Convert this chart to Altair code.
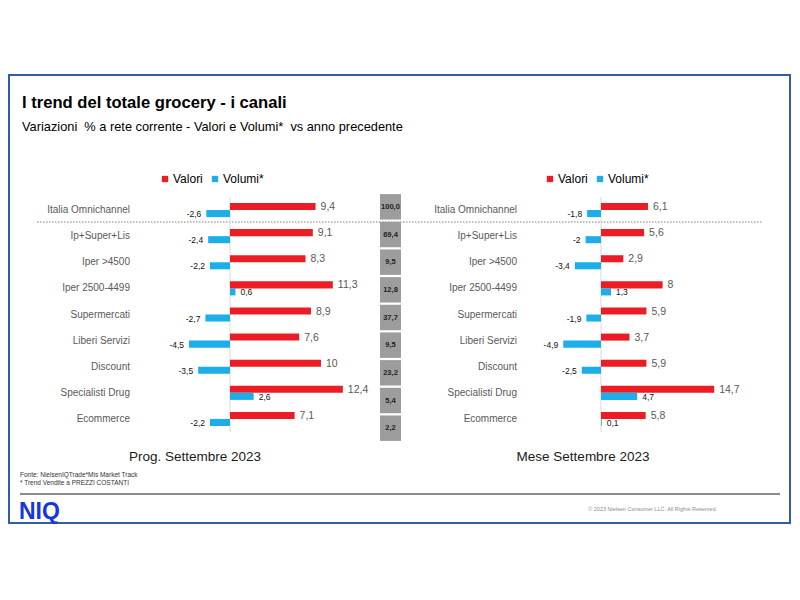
import altair as alt
import pandas as pd

# ---------------- data ----------------
categories = ["Italia Omnichannel", "Ip+Super+Lis", "Iper >4500", "Iper 2500-4499",
              "Supermercati", "Liberi Servizi", "Discount", "Specialisti Drug", "Ecommerce"]
series = ["Valori", "Volumi*"]
prog_valori = [9.4, 9.1, 8.3, 11.3, 8.9, 7.6, 10, 12.4, 7.1]
prog_volumi = [-2.6, -2.4, -2.2, 0.6, -2.7, -4.5, -3.5, 2.6, -2.2]
mese_valori = [6.1, 5.6, 2.9, 8, 5.9, 3.7, 5.9, 14.7, 5.8]
mese_volumi = [-1.8, -2, -3.4, 1.3, -1.9, -4.9, -2.5, 4.7, 0.1]
peso = ["100,0", "69,4", "9,5", "12,8", "37,7", "9,5", "23,2", "5,4", "2,2"]

title_text = "I trend del totale grocery - i canali"
subtitle_text = "Variazioni \u00a0% a rete corrente - Valori e Volumi* \u00a0vs anno precedente"
panel_titles = ["Prog. Settembre 2023", "Mese Settembre 2023"]
fonte_lines = ["Fonte: NielsenIQTrade*Mis Market Track", "* Trend Vendite a PREZZI COSTANTI"]
copyright_text = "© 2023 Nielsen Consumer LLC. All Rights Reserved."
logo_text = "NIQ"

RED = "#ec1c24"
BLUE = "#1caee8"
FONT = "Liberation Sans"
OFF = 8


def P(v):
    return v - OFF


def fmt(v):
    return f"{v:g}".replace(".", ",")


rows = []
for panel, vals, vols in [("prog", prog_valori, prog_volumi), ("mese", mese_valori, mese_volumi)]:
    for c, a, b in zip(categories, vals, vols):
        rows.append(dict(panel=panel, cat=c, series="Valori", value=a, label=fmt(a)))
        rows.append(dict(panel=panel, cat=c, series="Volumi*", value=b, label=fmt(b)))
df = pd.DataFrame(rows)
cat_df = pd.DataFrame({"cat": categories})
peso_df = pd.DataFrame({"cat": categories, "peso": peso})


def panel(name, zero_x, px_per_unit, label_right, legend_x):
    d = df[df.panel == name]
    xs = alt.Scale(domain=[-10, 15], range=[P(zero_x - 10 * px_per_unit), P(zero_x + 15 * px_per_unit)])
    ys = alt.Scale(domain=categories, range=[P(197), P(432)], paddingInner=0.46, paddingOuter=0.23)
    base = alt.Chart(d)
    zero = alt.Chart(pd.DataFrame({"z": [0]})).mark_rule(color="#d9d9d9", strokeWidth=1).encode(
        x=alt.X("z:Q", scale=xs, axis=None), y=alt.value(P(197)), y2=alt.value(P(432)))
    bars = base.mark_bar().encode(
        x=alt.X("value:Q", scale=xs, axis=None),
        x2=alt.X2(datum=0),
        y=alt.Y("cat:N", scale=ys, axis=None, sort=categories),
        yOffset=alt.YOffset("series:N", scale=alt.Scale(domain=series, paddingInner=0, paddingOuter=0)),
        color=alt.Color("series:N", scale=alt.Scale(domain=series, range=[RED, BLUE]),
                        legend=alt.Legend(orient="none", legendX=P(legend_x), legendY=P(173),
                                          direction="horizontal", title=None, symbolType="square",
                                          symbolSize=40, symbolStrokeWidth=0, labelFontSize=12,
                                          labelColor="#000000", labelFont=FONT, columnPadding=6,
                                          labelOffset=2, padding=0)),
    )
    enc = dict(x=alt.X("value:Q", scale=xs, axis=None),
               y=alt.Y("cat:N", scale=ys, axis=None, sort=categories),
               text="label:N")
    vlab = base.transform_filter("datum.series == 'Valori'").mark_text(
        align="left", baseline="middle", dx=5, dy=-3, fontSize=10.5, color="#595959", font=FONT).encode(**enc)
    neg = base.transform_filter("datum.series == 'Volumi*' && datum.value < 0").mark_text(
        align="right", baseline="middle", dx=-5, dy=4, fontSize=8.5, color="#111111", font=FONT).encode(**enc)
    pos = base.transform_filter("datum.series == 'Volumi*' && datum.value >= 0").mark_text(
        align="left", baseline="middle", dx=5, dy=4, fontSize=8.5, color="#111111", font=FONT).encode(**enc)
    labels = alt.Chart(cat_df).mark_text(align="right", baseline="middle", fontSize=10,
                                         color="#595959", font=FONT).encode(
        x=alt.value(P(label_right)), y=alt.Y("cat:N", scale=ys, axis=None, sort=categories), text="cat:N")
    return [zero, bars, vlab, neg, pos, labels]


def txt(s, x, y, size, color="#000000", bold=False, align="left", baseline="alphabetic"):
    return alt.Chart(pd.DataFrame({"t": [s]})).mark_text(
        align=align, baseline=baseline, fontSize=size, color=color, font=FONT,
        fontWeight="bold" if bold else "normal").encode(x=alt.value(x), y=alt.value(y), text="t:N")


one = pd.DataFrame({"k": [0]})
frame = alt.Chart(one).mark_rect(filled=False, stroke="#2f5da6", strokeWidth=2).encode(
    x=alt.value(1), x2=alt.value(782), y=alt.value(P(75)), y2=alt.value(P(523)))
dotted = alt.Chart(one).mark_rule(color="#7f7f7f", strokeWidth=1.2, strokeDash=[1.5, 1.5]).encode(
    x=alt.value(P(37)), x2=alt.value(P(762)), y=alt.value(P(222)))
footer_line = alt.Chart(one).mark_rule(color="#8c8c8c", strokeWidth=2).encode(
    x=alt.value(P(20)), x2=alt.value(P(780)), y=alt.value(P(494)))

ys_peso = alt.Scale(domain=categories, range=[P(193), P(442)], paddingInner=0.08, paddingOuter=0.04)
peso_rect = alt.Chart(peso_df).mark_rect(color="#9d9d9d").encode(
    x=alt.value(P(380)), x2=alt.value(P(401)), y=alt.Y("cat:N", scale=ys_peso, axis=None, sort=categories))
peso_txt = alt.Chart(peso_df).mark_text(fontSize=7.5, fontWeight="bold", color="#222222", font=FONT,
                                        baseline="middle").encode(
    x=alt.value(P(390.5)), y=alt.Y("cat:N", scale=ys_peso, axis=None, sort=categories), text="peso:N")

layers = [frame, dotted, footer_line, peso_rect, peso_txt]
layers += panel("prog", 230, 9.1, 130, 159)
layers += panel("mese", 601, 7.7, 517, 544)
layers += [
    txt(title_text, P(22), P(108), 16.6, bold=True),
    txt(subtitle_text, P(22), P(131), 12.8),
    txt(panel_titles[0], P(195), P(461), 13.5, color="#1a1a1a", align="center"),
    txt(panel_titles[1], P(583), P(461), 13.5, color="#1a1a1a", align="center"),
    txt(fonte_lines[0], P(20), P(477), 6.5, color="#333333"),
    txt(fonte_lines[1], P(20), P(485), 6.5, color="#333333"),
    txt(logo_text, P(19), P(519), 23, color="#1736dc", bold=True),
    txt(copyright_text, P(717), P(511), 5.5, color="#8c8c8c", align="right"),
]

chart = alt.layer(*layers).resolve_scale(
    x="independent", y="independent", color="independent", yOffset="independent"
).properties(
    width=784, height=584, autosize=alt.AutoSizeParams(type="none"), padding=0
).configure(font=FONT).configure_view(strokeWidth=0, stroke="transparent")

chart.save("out.html", embed_options={"renderer": "svg", "actions": False})
